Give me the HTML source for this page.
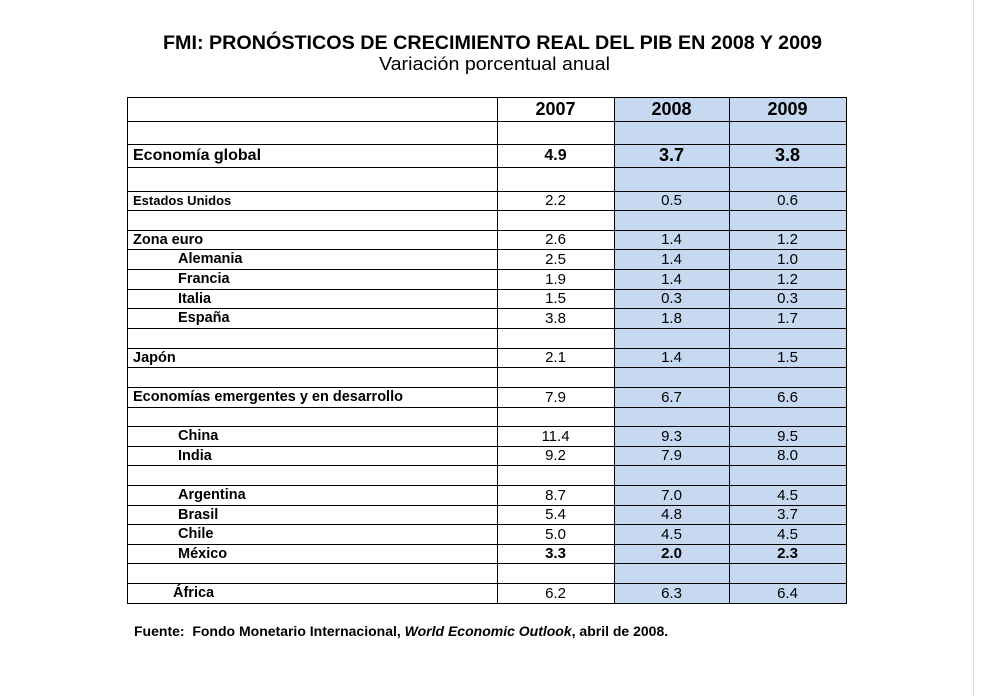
<!DOCTYPE html>
<html><head><meta charset="utf-8"><style>
body{margin:0;background:#fff;width:982px;height:696px;position:relative;overflow:hidden;font-family:"Liberation Sans",Arial,sans-serif;color:#000}
.c{position:absolute;box-sizing:border-box;display:flex;align-items:center;white-space:nowrap}
.hl{position:absolute;background:#000;height:1px}
.vl{position:absolute;background:#000;width:1px}
.blue{position:absolute;background:#c6d9f1}
</style></head><body>
<svg style="position:absolute;left:0;top:0" width="982" height="80">
<text x="163" y="49" textLength="659" lengthAdjust="spacingAndGlyphs" font-family="Liberation Sans, Arial, sans-serif" font-weight="bold" font-size="19">FMI: PRONÓSTICOS DE CRECIMIENTO REAL DEL PIB EN 2008 Y 2009</text>
<text x="379" y="70" textLength="231" lengthAdjust="spacingAndGlyphs" font-family="Liberation Sans, Arial, sans-serif" font-size="18">Variación porcentual anual</text>
</svg>
<div id="tbl"></div>
<div class="c" style="left:134px;top:623px;font-size:14px;font-weight:bold">Fuente:&nbsp; Fondo Monetario Internacional,&nbsp;<i>World Economic Outlook</i>, abril de 2008.</div>
<div style="position:absolute;left:973px;top:0;width:1px;height:696px;background:#ddd"></div>
<script>
const years=["2007","2008","2009"];
const labels=["","Economía global","","Estados Unidos","","Zona euro","Alemania","Francia","Italia","España","","Japón","","Economías emergentes y en desarrollo","","China","India","","Argentina","Brasil","Chile","México","","África"];
const v2007=["","4.9","","2.2","","2.6","2.5","1.9","1.5","3.8","","2.1","","7.9","","11.4","9.2","","8.7","5.4","5.0","3.3","","6.2"];
const v2008=["","3.7","","0.5","","1.4","1.4","1.4","0.3","1.8","","1.4","","6.7","","9.3","7.9","","7.0","4.8","4.5","2.0","","6.3"];
const v2009=["","3.8","","0.6","","1.2","1.0","1.2","0.3","1.7","","1.5","","6.6","","9.5","8.0","","4.5","3.7","4.5","2.3","","6.4"];
const indents=[0,0,0,0,0,0,1,1,1,1,0,0,0,0,0,1,1,0,1,1,1,1,0,2];
const bold=[0,1,0,0,0,0,0,0,0,0,0,0,0,0,0,0,0,0,0,0,0,1,0,0];
const lines=[97,121,144,167,191,210,230,249,269,289,308,328,348,367,387,407,426,446,465,485,505,524,544,563,583,603];
const cols=[127,497,614,729,846];
const t=document.getElementById('tbl');
function add(cls,st,name,txt){const d=document.createElement('div');d.className=cls;d.style.cssText=st;


if(txt!==undefined)d.textContent=txt;t.appendChild(d);return d;}
add('blue',`left:${cols[2]}px;top:${lines[0]}px;width:${cols[4]-cols[2]}px;height:${lines[lines.length-1]-lines[0]}px`,'forecast-shading');
const allVals=[v2007,v2008,v2009];
for(let i=0;i<years.length;i++){
 add('c',`left:${cols[i+1]}px;top:${lines[0]}px;width:${cols[i+2]-cols[i+1]}px;height:${lines[1]-lines[0]}px;justify-content:center;font-weight:bold;font-size:18px`,'year-header-'+years[i],years[i]);
}
for(let r=0;r<labels.length;r++){
 const top=lines[r+1],h=lines[r+2]-top;
 const big=r===1;
 if(labels[r]){
  const pad=indents[r]===1?51:indents[r]===2?46:6;
  add('c',`left:${cols[0]}px;top:${top}px;height:${h}px;padding-left:${pad}px;font-weight:bold;font-size:${big?16:(r===3?13:14.5)}px`,'row-label',labels[r]);
 }
 for(let i=0;i<3;i++){
  const v=allVals[i][r];if(!v)continue;
  const fs=big?(i===0?16:18):15;
  add('c',`left:${cols[i+1]}px;top:${top}px;width:${cols[i+2]-cols[i+1]}px;height:${h}px;justify-content:center;font-size:${fs}px;font-weight:${(big||bold[r])?'bold':'normal'}`,'value-'+years[i],v);
 }
}
lines.forEach(y=>add('hl',`left:${cols[0]}px;top:${y}px;width:${cols[4]-cols[0]+1}px`,'row-rule'));
cols.forEach(x=>add('vl',`left:${x}px;top:${lines[0]}px;height:${lines[lines.length-1]-lines[0]+1}px`,'column-rule'));
</script>
</body></html>
